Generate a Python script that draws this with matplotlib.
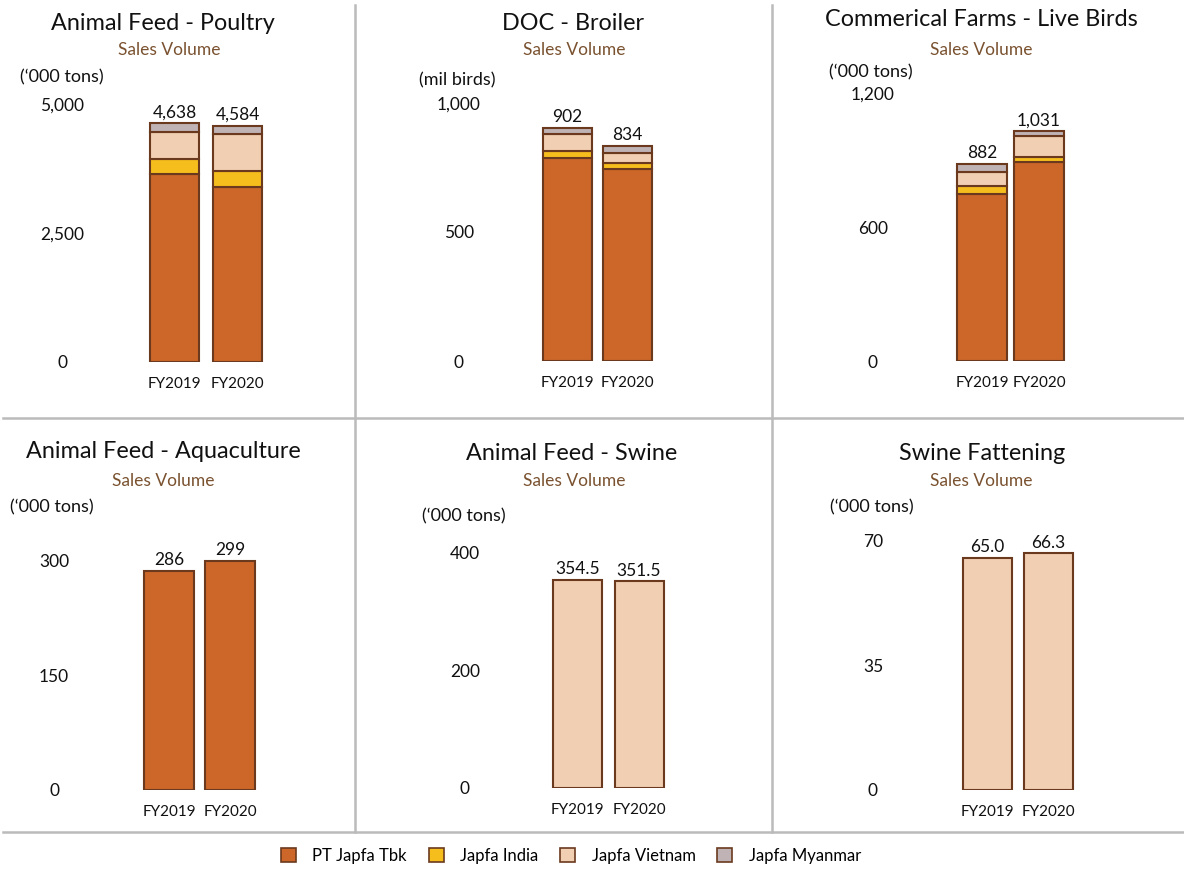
import matplotlib
matplotlib.use("Agg")
import matplotlib.pyplot as plt
from matplotlib.patches import Patch
from matplotlib.lines import Line2D
import numpy as np

plt.rcParams['font.family'] = ['Lato', 'DejaVu Sans']

W, H = 1184, 874
years = ["FY2019", "FY2020"]
companies = ["PT Japfa Tbk", "Japfa India", "Japfa Vietnam", "Japfa Myanmar"]
colors = ["#CC6629", "#F5BE1C", "#F1CFB2", "#BFB3B5"]
edge = "#6B3A1E"
sub_color = "#7A5230"

# sales volume per company, FY2019 / FY2020
poultry_feed = {"PT Japfa Tbk": [3648, 3393], "Japfa India": [291, 318],
                "Japfa Vietnam": [524, 714], "Japfa Myanmar": [175, 159]}
doc_broiler = {"PT Japfa Tbk": [786, 745], "Japfa India": [27, 20],
               "Japfa Vietnam": [66, 41], "Japfa Myanmar": [23, 28]}
live_birds = {"PT Japfa Tbk": [750, 893], "Japfa India": [33, 22],
              "Japfa Vietnam": [66, 94], "Japfa Myanmar": [33, 22]}
aqua_feed = {"PT Japfa Tbk": [286, 299]}
swine_feed = {"Japfa Vietnam": [354.5, 351.5]}
swine_fattening = {"Japfa Vietnam": [65.0, 66.3]}

titles = ["Animal Feed - Poultry", "DOC - Broiler", "Commerical Farms - Live Birds",
          "Animal Feed - Aquaculture", "Animal Feed - Swine", "Swine Fattening"]
units = ["(\u2018000 tons)", "(mil birds)", "(\u2018000 tons)",
         "(\u2018000 tons)", "(\u2018000 tons)", "(\u2018000 tons)"]
yticks = [[0, 2500, 5000], [0, 500, 1000], [0, 600, 1200],
          [0, 150, 300], [0, 200, 400], [0, 35, 70]]
value_fmt = ["{:,.0f}", "{:,.0f}", "{:,.0f}", "{:,.0f}", "{:.1f}", "{:.1f}"]
datasets = [poultry_feed, doc_broiler, live_birds, aqua_feed, swine_feed, swine_fattening]

# pixel layout per panel: bar centres, bar width, base y, px per unit,
# y tick label centre x, title (x, y), subtitle (x, y), unit label (x, y)
layout = [
    dict(c=(174.5, 237.5), w=49, base=362, ppu=239 / 4638, tx=62,
         title=(163, 24), sub=(169, 50), unit=(20, 77)),
    dict(c=(567.5, 627), w=49, base=361, ppu=233 / 902, tx=459,
         title=(573, 24), sub=(574, 50), unit=(419, 80)),
    dict(c=(982, 1039), w=50, base=361, ppu=230 / 1031, tx=873,
         title=(981, 20), sub=(981, 50), unit=(829, 72)),
    dict(c=(169, 230), w=50, base=790, ppu=0.765, tx=54,
         title=(163, 452), sub=(163, 481), unit=(10, 507)),
    dict(c=(577.5, 639), w=49, base=788, ppu=0.588, tx=465,
         title=(572, 453), sub=(574, 481), unit=(422, 516)),
    dict(c=(987.5, 1048.5), w=49, base=790, ppu=3.57, tx=873,
         title=(982, 453), sub=(981, 481), unit=(830, 507)),
]

fig = plt.figure(figsize=(W / 100, H / 100), dpi=100)

for i, (data, lay) in enumerate(zip(datasets, layout)):
    c0, c1 = lay["c"]
    s = c1 - c0
    left_px = lay["tx"] + 40
    right_px = c1 + 60
    top_px = lay["base"] - 290
    ax = fig.add_axes([left_px / W, 1 - lay["base"] / H,
                       (right_px - left_px) / W, (lay["base"] - top_px) / H])
    ax.set_xlim((left_px - c0) / s, (right_px - c0) / s)
    ax.set_ylim(0, (lay["base"] - top_px) / lay["ppu"])

    x = np.arange(len(years))
    bottom = np.zeros(len(years))
    for name, col in zip(companies, colors):
        if name not in data:
            continue
        vals = np.array(data[name], dtype=float)
        ax.bar(x, vals, bottom=bottom, width=lay["w"] / s, color=col,
               edgecolor=edge, linewidth=1.5)
        bottom += vals
    for xi, tot in zip(x, bottom):
        ax.annotate(value_fmt[i].format(tot), (xi, tot), xytext=(0, 2),
                    textcoords="offset points", ha="center", va="bottom",
                    fontsize=12.5, color="#111111")

    for sp in ax.spines.values():
        sp.set_visible(False)
    ax.set_xticks(x)
    ax.set_xticklabels(years, fontsize=11)
    ax.set_yticks(yticks[i])
    ax.set_yticklabels(["{:,}".format(t) for t in yticks[i]], fontsize=12.5)
    ax.tick_params(axis="both", length=0, colors="#111111")
    ax.tick_params(axis="x", pad=11)
    ax.tick_params(axis="y", pad=(left_px - lay["tx"]) * 0.72)
    for lbl in ax.get_yticklabels():
        lbl.set_horizontalalignment("center")

    tx, ty = lay["title"]
    fig.text(tx / W, 1 - ty / H, titles[i], ha="center", va="center",
             fontsize=16.8, color="#111111")
    sx, sy = lay["sub"]
    fig.text(sx / W, 1 - sy / H, "Sales Volume", ha="center",
             va="center", fontsize=12.5, color=sub_color)
    ux, uy = lay["unit"]
    fig.text(ux / W, 1 - uy / H, units[i], ha="left", va="center",
             fontsize=13, color="#111111")

# panel dividers
grid = "#BBBBBB"
for xp in (355, 772):
    fig.add_artist(Line2D([xp / W, xp / W], [1 - 5 / H, 1 - 832 / H],
                          transform=fig.transFigure, color=grid, lw=1.8))
for yp in (418, 832):
    fig.add_artist(Line2D([3 / W, 1], [1 - yp / H, 1 - yp / H],
                          transform=fig.transFigure, color=grid, lw=1.8))

handles = [Patch(facecolor=c, edgecolor=edge, linewidth=1.2, label=n)
           for n, c in zip(companies, colors)]
fig.legend(handles=handles, loc="center", bbox_to_anchor=(571 / W, 1 - 856 / H),
           ncol=4, frameon=False, fontsize=12, handlelength=0.9,
           handleheight=0.9, handletextpad=1.0, columnspacing=1.3)

fig.savefig("out.png", dpi=100)
